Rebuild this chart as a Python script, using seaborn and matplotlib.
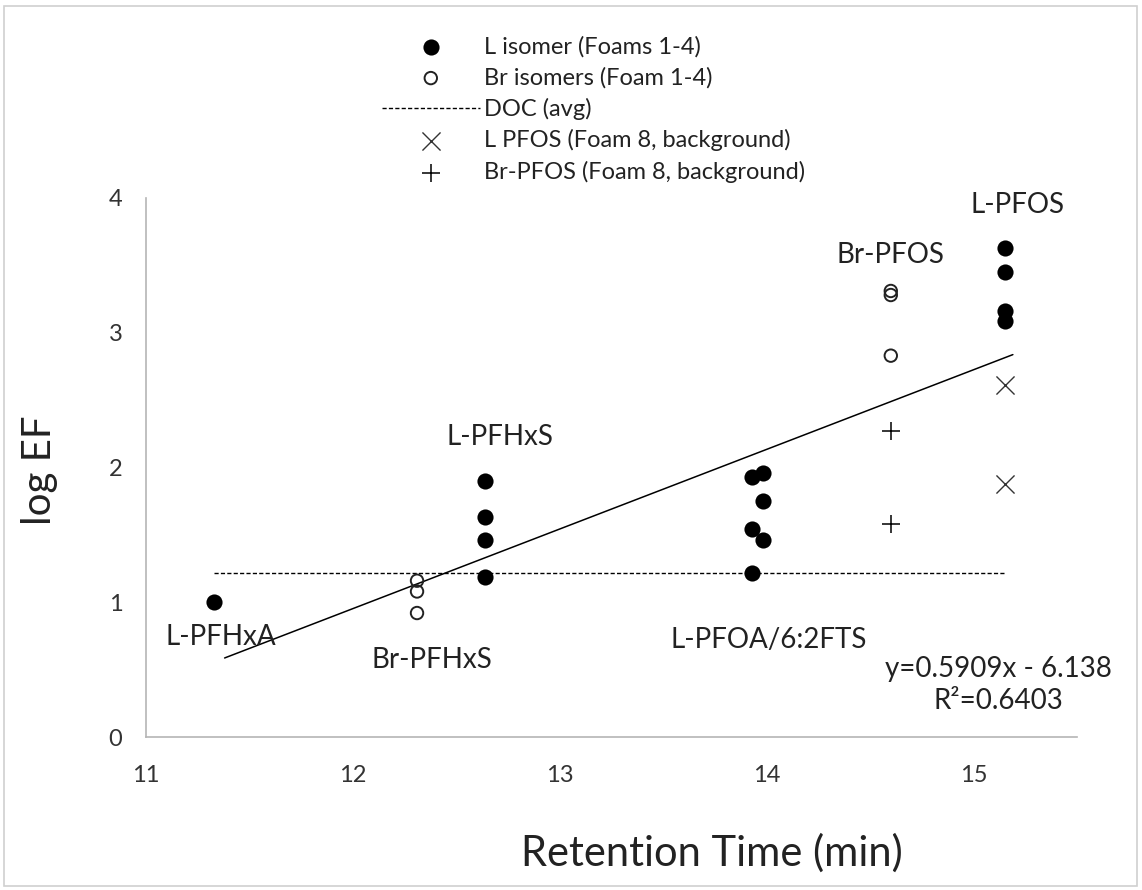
import numpy as np
import pandas as pd
import matplotlib.pyplot as plt
import seaborn as sns
from matplotlib.patches import Rectangle

# L isomers (Foams 1-4): PFHxA, PFHxS, PFOA/6:2FTS, PFOS
l_x = [11.33, 12.64, 12.64, 12.64, 12.64, 13.93, 13.98, 13.98, 13.93, 13.98, 13.93,
       15.15, 15.15, 15.15, 15.15]
l_y = [1.00, 1.90, 1.63, 1.46, 1.19, 1.93, 1.96, 1.75, 1.54, 1.46, 1.22,
       3.63, 3.45, 3.16, 3.09]

# Br isomers (Foam 1-4): Br-PFHxS, Br-PFOS
br_x = [12.31, 12.31, 12.31, 14.60, 14.60, 14.60]
br_y = [1.16, 1.08, 0.92, 3.31, 3.28, 2.83]

# Foam 8 background
bg_l_x = [15.15, 15.15]
bg_l_y = [2.61, 1.88]
bg_br_x = [14.60, 14.60]
bg_br_y = [2.27, 1.58]

doc_avg = 1.22
slope = 0.5909
intercept = -6.138
r2 = 0.6403

labels = ["L-PFHxA", "Br-PFHxS", "L-PFHxS", "L-PFOA/6:2FTS", "Br-PFOS", "L-PFOS"]
label_x = [11.36, 12.38, 12.71, 14.01, 14.60, 15.21]
label_y = [0.74, 0.57, 2.23, 0.72, 3.58, 3.95]

sns.set_style("white")
plt.rcParams["font.family"] = ["Lato", "DejaVu Sans"]

fig = plt.figure(figsize=(11.42, 8.9), dpi=100)
ax = fig.add_axes([146 / 1142, 1 - 737 / 890, 931 / 1142, 539 / 890])

all_x = l_x + br_x
x_lo, x_hi = min(all_x), max(all_x)

df_l = pd.DataFrame({"x": l_x, "y": l_y})
df_br = pd.DataFrame({"x": br_x, "y": br_y})
df_bgl = pd.DataFrame({"x": bg_l_x, "y": bg_l_y})
df_bgbr = pd.DataFrame({"x": bg_br_x, "y": bg_br_y})

sns.scatterplot(data=df_l, x="x", y="y", marker="o", color="black", s=135,
                edgecolor="black", linewidth=0, ax=ax, label="L isomer (Foams 1-4)", zorder=3)
sns.scatterplot(data=df_br, x="x", y="y", marker="o", facecolor="none", s=80,
                edgecolor="#222222", linewidth=1.4, ax=ax, label="Br isomers (Foam 1-4)", zorder=3)

doc_df = pd.DataFrame({"x": [x_lo, x_hi], "y": [doc_avg, doc_avg]})
sns.lineplot(data=doc_df, x="x", y="y", color="black", linewidth=1.0, ax=ax,
             label="DOC (avg)", zorder=2)
ax.lines[-1].set_dashes([3, 1.6])

sns.scatterplot(data=df_bgl, x="x", y="y", marker="x", color="#333333", s=170,
                linewidth=1.0, ax=ax, label="L PFOS (Foam 8, background)", zorder=3)
sns.scatterplot(data=df_bgbr, x="x", y="y", marker="+", color="black", s=170,
                linewidth=1.1, ax=ax, label="Br-PFOS (Foam 8, background)", zorder=3)

# trend line
tx = np.array([11.38, 15.19])
trend_df = pd.DataFrame({"x": tx, "y": slope * tx + intercept})
sns.lineplot(data=trend_df, x="x", y="y", color="black", linewidth=1.1, ax=ax,
             legend=False, zorder=2)

for name, lx, ly in zip(labels, label_x, label_y):
    ax.text(lx, ly, name, ha="center", va="center", fontsize=20, color="#222222")

ax.text(15.12, 0.385, f"y={slope}x - {abs(intercept)}\nR²={r2}", ha="center", va="center",
        fontsize=20, color="#222222", linespacing=1.3)

ax.set_xlim(11, 15.5)
ax.set_ylim(0, 4)
ax.set_xticks([11, 12, 13, 14, 15])
ax.set_yticks([0, 1, 2, 3, 4])
ax.tick_params(axis="both", length=0, labelsize=17, colors="#333333")
ax.tick_params(axis="x", pad=20)
ax.tick_params(axis="y", pad=17)

sns.despine(ax=ax)
for side in ["left", "bottom"]:
    ax.spines[side].set_color("#b5b5b5")
    ax.spines[side].set_linewidth(1.2)

ax.set_xlabel("Retention Time (min)", fontsize=30, color="#222222")
ax.set_ylabel("log EF", fontsize=29, color="#222222")
ax.xaxis.set_label_coords(0.608, -0.178)
ax.yaxis.set_label_coords(-0.095, 0.495)

leg = ax.legend(loc="upper left", bbox_to_anchor=(370 / 1142, 1 - 24 / 890),
                bbox_transform=fig.transFigure, frameon=False, fontsize=17,
                handlelength=4.15, handletextpad=0.17, labelspacing=0.4, borderpad=0)
for t in leg.get_texts():
    t.set_color("#222222")

fig.add_artist(Rectangle((4 / 1142, 4 / 890), 1133 / 1142, 880 / 890, transform=fig.transFigure,
                         fill=False, edgecolor="#d0d0d0", linewidth=1.2))

fig.savefig("out.png", dpi=100, facecolor="white")
